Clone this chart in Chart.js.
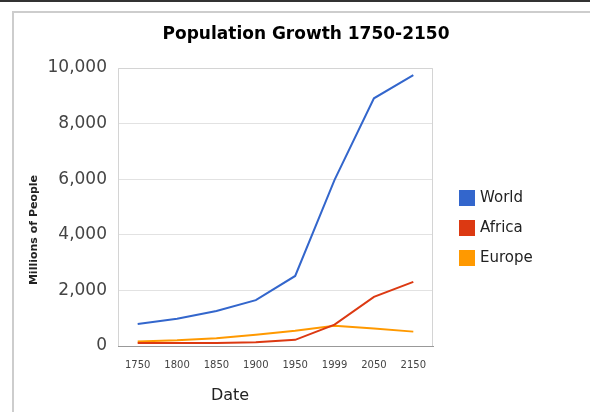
<!DOCTYPE html>
<html>
<head>
<meta charset="utf-8">
<script src="https://cdn.jsdelivr.net/npm/chart.js@4.4.0/dist/chart.umd.min.js"></script>
<style>
  html, body { margin: 0; padding: 0; background: #fff; }
  #wrap { position: relative; width: 590px; height: 412px; overflow: hidden; }
  #topline { position: absolute; left: 0; top: 0; width: 590px; height: 2px; background: #333; }
  #frame { position: absolute; left: 12px; top: 11px; width: 600px; height: 420px; border-left: 2px solid #cdcdcd; border-top: 2px solid #cdcdcd; }
  canvas { position: absolute; left: 0; top: 0; }
</style>
</head>
<body>
<div id="wrap">
  <div id="topline"></div>
  <div id="frame"></div>
  <canvas id="chart1" width="590" height="412"></canvas>
</div>
<script>
var chartTitle = 'Population Growth 1750-2150';
var xTitle = 'Date';
var yTitle = 'Millions of People';
var years = ['1750', '1800', '1850', '1900', '1950', '1999', '2050', '2150'];
var world = [791, 978, 1262, 1650, 2519, 5978, 8909, 9746];
var africa = [106, 107, 111, 133, 221, 767, 1766, 2308];
var europe = [163, 203, 276, 408, 547, 729, 628, 517];
var yTicks = [0, 2000, 4000, 6000, 8000, 10000];

// title, axis titles, legend and plot frame drawn by hand (Google Charts layout)
var extras = {
  id: 'extras',
  beforeDatasetsDraw: function(chart) {
    var ctx = chart.ctx, a = chart.chartArea;
    ctx.save();
    ctx.strokeStyle = '#d4d4d4';
    ctx.lineWidth = 1;
    ctx.beginPath();
    ctx.moveTo(a.left + 0.5, a.bottom);
    ctx.lineTo(a.left + 0.5, a.top + 0.5);
    ctx.lineTo(a.right - 0.5, a.top + 0.5);
    ctx.lineTo(a.right - 0.5, a.bottom);
    ctx.stroke();
    ctx.restore();
  },
  afterDraw: function(chart) {
    var ctx = chart.ctx;
    ctx.save();
    ctx.textAlign = 'center';
    ctx.textBaseline = 'middle';
    ctx.fillStyle = '#000';
    ctx.font = 'bold 17px "DejaVu Sans"';
    ctx.fillText(chartTitle, 306, 35);
    ctx.fillStyle = '#222';
    ctx.font = '16px "DejaVu Sans"';
    ctx.fillText(xTitle, 230, 396);

    ctx.save();
    ctx.translate(34, 230);
    ctx.rotate(-Math.PI / 2);
    ctx.font = 'bold 11px "DejaVu Sans"';
    ctx.fillText(yTitle, 0, 0);
    ctx.restore();

    ctx.textAlign = 'left';
    ctx.font = '15px "DejaVu Sans"';
    chart.data.datasets.forEach(function(ds, i) {
      var y = 198 + i * 30;
      ctx.fillStyle = ds.borderColor;
      ctx.fillRect(459, y - 8, 16, 16);
      ctx.fillStyle = '#222';
      ctx.fillText(ds.label, 480, y);
    });
    ctx.restore();
  }
};

var ctx1 = document.getElementById('chart1').getContext('2d');
var chart1 = new Chart(ctx1, {
  type: 'line',
  data: {
    labels: years,
    datasets: [
      { label: 'World', data: world, borderColor: '#3366cc', backgroundColor: '#3366cc' },
      { label: 'Africa', data: africa, borderColor: '#dc3912', backgroundColor: '#dc3912' },
      { label: 'Europe', data: europe, borderColor: '#ff9900', backgroundColor: '#ff9900' }
    ]
  },
  options: {
    responsive: false,
    animation: false,
    elements: {
      line: { borderWidth: 2, tension: 0 },
      point: { radius: 0 }
    },
    layout: { padding: { left: 22, right: 157, top: 68, bottom: 4 } },
    plugins: {
      legend: { display: false },
      title: { display: false },
      tooltip: { enabled: false }
    },
    scales: {
      x: {
        offset: true,
        grid: { display: false },
        border: { color: '#999', width: 1 },
        ticks: {
          font: { family: 'DejaVu Sans', size: 10 },
          color: '#444',
          padding: 5,
          maxRotation: 0,
          autoSkip: false
        },
        afterFit: function(scale) { scale.height = 62; }
      },
      y: {
        min: 0,
        max: 10000,
        afterBuildTicks: function(scale) {
          scale.ticks = yTicks.map(function(v) { return { value: v }; });
        },
        grid: { color: '#e2e2e2', drawTicks: false },
        border: { display: false },
        ticks: {
          font: { family: 'DejaVu Sans', size: 17 },
          color: '#444',
          padding: 11
        },
        afterFit: function(scale) { scale.width = 96; }
      }
    }
  },
  plugins: [extras]
});
</script>
</body>
</html>
